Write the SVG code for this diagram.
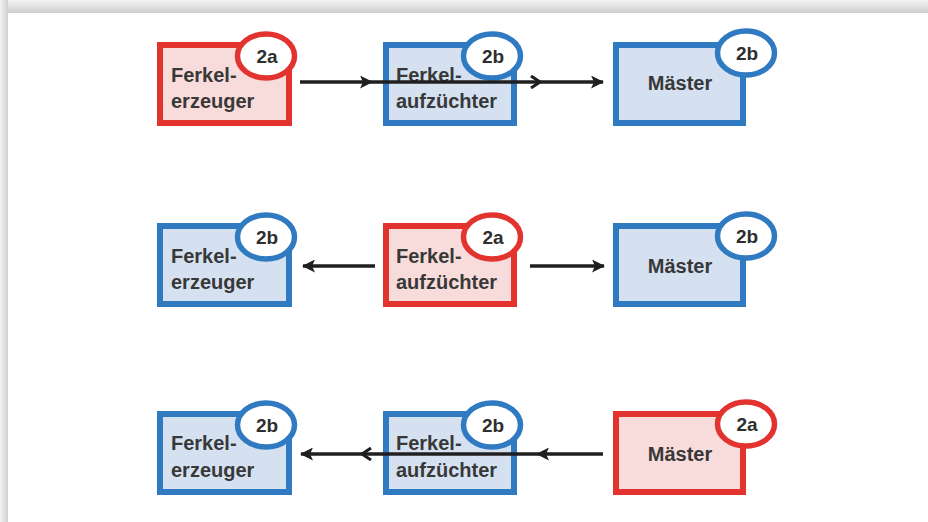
<svg xmlns="http://www.w3.org/2000/svg" width="928" height="522" viewBox="0 0 928 522">
  <defs>
    <linearGradient id="shadeTop" x1="0" y1="0" x2="0" y2="1">
      <stop offset="0" stop-color="#f3f3f3"/>
      <stop offset="1" stop-color="#cfcfcf"/>
    </linearGradient>
    <linearGradient id="shadeLeft" x1="0" y1="0" x2="1" y2="0">
      <stop offset="0" stop-color="#f3f3f3"/>
      <stop offset="1" stop-color="#cfcfcf"/>
    </linearGradient>
    <marker id="head" viewBox="0 0 13 13" refX="12" refY="6.5" markerWidth="13" markerHeight="13" markerUnits="userSpaceOnUse" orient="auto">
      <path d="M0,0 L13,6.5 L0,13 L3,6.5 Z" fill="#1f1f1f"/>
    </marker>
    <marker id="chev" viewBox="0 0 12 14" refX="10" refY="7" markerWidth="12" markerHeight="14" markerUnits="userSpaceOnUse" orient="auto">
      <path d="M1,1 L10,7 L1,13" fill="none" stroke="#1f1f1f" stroke-width="3" stroke-linejoin="miter"/>
    </marker>
  </defs>
  <style>
    .box-a { fill: #f8dcdb; stroke: #e2332f; stroke-width: 6; }
    .box-b { fill: #d5e1f1; stroke: #2f7ac0; stroke-width: 6; }
    .tag-a { fill: #ffffff; stroke: #e2332f; stroke-width: 5.5; }
    .tag-b { fill: #ffffff; stroke: #2f7ac0; stroke-width: 5.5; }
    .lbl { font-family: "Liberation Sans", Arial, sans-serif; font-weight: bold; font-size: 20px; fill: #383838; }
    .mid { text-anchor: middle; }
    .tag { font-family: "Liberation Sans", Arial, sans-serif; font-weight: bold; font-size: 19px; fill: #2e2e2e; text-anchor: middle; }
    .flow { fill: none; stroke: #1f1f1f; stroke-width: 3.5; }
  </style>

  <!-- page frame -->
  <rect x="0" y="0" width="928" height="522" fill="#e4e4e4"/>
  <rect x="0" y="0" width="928" height="13" fill="url(#shadeTop)"/>
  <rect x="0" y="0" width="8" height="522" fill="url(#shadeLeft)"/>
  <rect x="8" y="13" width="920" height="509" fill="#ffffff"/>

  <!-- row 1 -->
  <g id="r1-ferkelerzeuger">
    <rect class="box-a" x="160" y="45" width="129" height="78"/>
    <text class="lbl" x="171" y="82">Ferkel-</text>
    <text class="lbl" x="171" y="108">erzeuger</text>
    <ellipse class="tag-a" cx="266" cy="56" rx="28.5" ry="22"/>
    <text class="tag" x="267" y="63">2a</text>
  </g>
  <g id="r1-ferkelaufzuechter">
    <rect class="box-b" x="386" y="45" width="128" height="78"/>
    <text class="lbl" x="396" y="82">Ferkel-</text>
    <text class="lbl" x="396" y="108">aufzüchter</text>
    <ellipse class="tag-b" cx="492" cy="56" rx="28.5" ry="22"/>
    <text class="tag" x="493" y="63">2b</text>
  </g>
  <g id="r1-maester">
    <rect class="box-b" x="616" y="45" width="127" height="78"/>
    <text class="lbl mid" x="680" y="90">Mäster</text>
    <ellipse class="tag-b" cx="746" cy="53" rx="28.5" ry="22"/>
    <text class="tag" x="747" y="60">2b</text>
  </g>

  <!-- row 2 -->
  <g id="r2-ferkelerzeuger">
    <rect class="box-b" x="160" y="226" width="129" height="78"/>
    <text class="lbl" x="171" y="263">Ferkel-</text>
    <text class="lbl" x="171" y="289">erzeuger</text>
    <ellipse class="tag-b" cx="266" cy="237" rx="28.5" ry="22"/>
    <text class="tag" x="267" y="244">2b</text>
  </g>
  <g id="r2-ferkelaufzuechter">
    <rect class="box-a" x="386" y="226" width="128" height="78"/>
    <text class="lbl" x="396" y="263">Ferkel-</text>
    <text class="lbl" x="396" y="289">aufzüchter</text>
    <ellipse class="tag-a" cx="492" cy="237" rx="28.5" ry="22"/>
    <text class="tag" x="493" y="244">2a</text>
  </g>
  <g id="r2-maester">
    <rect class="box-b" x="616" y="226" width="127" height="78"/>
    <text class="lbl mid" x="680" y="273">Mäster</text>
    <ellipse class="tag-b" cx="746" cy="236" rx="28.5" ry="22"/>
    <text class="tag" x="747" y="243">2b</text>
  </g>

  <!-- row 3 -->
  <g id="r3-ferkelerzeuger">
    <rect class="box-b" x="160" y="414" width="129" height="78"/>
    <text class="lbl" x="171" y="450">Ferkel-</text>
    <text class="lbl" x="171" y="477">erzeuger</text>
    <ellipse class="tag-b" cx="266" cy="425" rx="28.5" ry="22"/>
    <text class="tag" x="267" y="432">2b</text>
  </g>
  <g id="r3-ferkelaufzuechter">
    <rect class="box-b" x="386" y="414" width="128" height="78"/>
    <text class="lbl" x="396" y="450">Ferkel-</text>
    <text class="lbl" x="396" y="477">aufzüchter</text>
    <ellipse class="tag-b" cx="492" cy="425" rx="28.5" ry="22"/>
    <text class="tag" x="493" y="432">2b</text>
  </g>
  <g id="r3-maester">
    <rect class="box-a" x="616" y="414" width="127" height="78"/>
    <text class="lbl mid" x="680" y="461">Mäster</text>
    <ellipse class="tag-a" cx="746" cy="424" rx="28.5" ry="22"/>
    <text class="tag" x="747" y="431">2a</text>
  </g>

  <!-- connectors -->
  <g id="connectors">
    <path class="flow" d="M300,82 H372" marker-end="url(#head)"/>
    <path class="flow" d="M372,82 H540" marker-end="url(#chev)"/>
    <path class="flow" d="M540,82 H603" marker-end="url(#head)"/>

    <path class="flow" d="M375,266 H303" marker-end="url(#head)"/>
    <path class="flow" d="M530,266 H604" marker-end="url(#head)"/>

    <path class="flow" d="M603,454 H537" marker-end="url(#head)"/>
    <path class="flow" d="M537,454 H362" marker-end="url(#chev)"/>
    <path class="flow" d="M362,454 H301" marker-end="url(#head)"/>
  </g>
</svg>
